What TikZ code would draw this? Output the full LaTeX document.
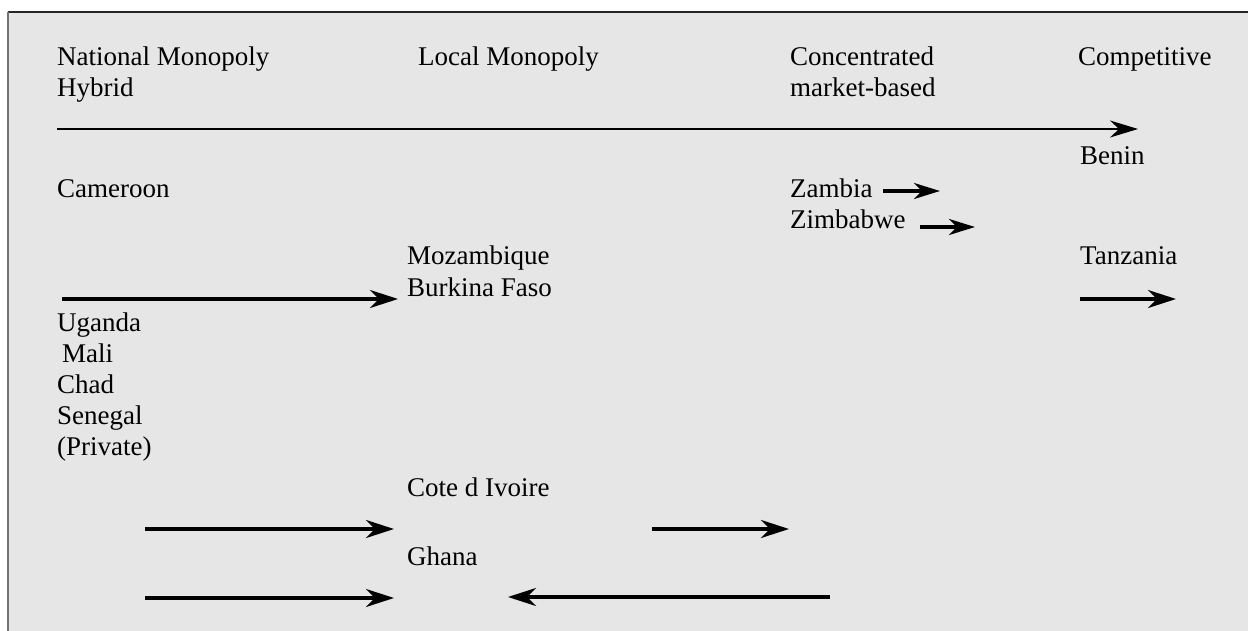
\documentclass[tikz,border=0pt]{standalone}
\usepackage{fontspec}
\setmainfont{Liberation Serif}
\usetikzlibrary{arrows.meta}
\definecolor{panel}{HTML}{E6E6E6}
\begin{document}
\begin{tikzpicture}[x=1pt,y=-1pt,
  lbl/.style={anchor=base west,inner sep=0pt,font=\fontsize{27}{31}\selectfont,text=black},
  thinarrow/.style={line width=1.8pt,-{Stealth[length=28pt,width=17pt,inset=9pt]}},
  thickarrow/.style={line width=3.4pt,-{Stealth[length=28pt,width=18pt,inset=9pt]}},
  shortarrow/.style={line width=3.4pt,-{Stealth[length=26pt,width=16pt,inset=8pt]}}]
\useasboundingbox (0,0) rectangle (1248,631);
\fill[white] (0,0) rectangle (1248,631);
\fill[panel] (8,12) rectangle (1248,631);
\draw[line width=1.8pt,black!85] (1248,12) -- (8,12);
\draw[line width=1.8pt,black!55] (8,12) -- (8,631);
% headings
\node[lbl] (nm) at (57,66) {National Monopoly};
\node[lbl] (hy) at (57,97) {Hybrid};
\node[lbl] (lm) at (418,66) {Local Monopoly};
\node[lbl] (cc) at (790,66) {Concentrated};
\node[lbl] (mb) at (790,97) {market-based};
\node[lbl] (cp) at (1078,66) {Competitive};
% countries
\node[lbl] (benin) at (1080,165) {Benin};
\node[lbl] (cam) at (57,198) {Cameroon};
\node[lbl] (zam) at (790,198) {Zambia};
\node[lbl] (zim) at (790,229) {Zimbabwe};
\node[lbl] (moz) at (407,265) {Mozambique};
\node[lbl] (bf) at (407,296) {Burkina Faso};
\node[lbl] (tan) at (1080,265) {Tanzania};
\node[lbl] (uga) at (57,331) {Uganda};
\node[lbl] (mali) at (62,362) {Mali};
\node[lbl] (chad) at (57,393) {Chad};
\node[lbl] (sen) at (57,424) {Senegal};
\node[lbl] (priv) at (57,455) {(Private)};
\node[lbl] (civ) at (407,496) {Cote d Ivoire};
\node[lbl] (gha) at (407,565) {Ghana};
% arrow end points
\coordinate (a1s) at (57,129);  \coordinate (a1e) at (1138,129);
\coordinate (a2s) at (883,191); \coordinate (a2e) at (940,191);
\coordinate (a3s) at (920,227); \coordinate (a3e) at (975,227);
\coordinate (a4s) at (62,299);  \coordinate (a4e) at (398,299);
\coordinate (a5s) at (1080,299); \coordinate (a5e) at (1176,299);
\coordinate (a6s) at (145,529); \coordinate (a6e) at (394,529);
\coordinate (a7s) at (652,529); \coordinate (a7e) at (789,529);
\coordinate (a8s) at (145,598); \coordinate (a8e) at (394,598);
\coordinate (a9s) at (830,597); \coordinate (a9e) at (508,597);
\draw[thinarrow] (a1s) -- (a1e);
\draw[shortarrow] (a2s) -- (a2e);
\draw[shortarrow] (a3s) -- (a3e);
\draw[thickarrow] (a4s) -- (a4e);
\draw[thickarrow] (a5s) -- (a5e);
\draw[thickarrow] (a6s) -- (a6e);
\draw[thickarrow] (a7s) -- (a7e);
\draw[thickarrow] (a8s) -- (a8e);
\draw[thickarrow] (a9s) -- (a9e);
\end{tikzpicture}
\end{document}
